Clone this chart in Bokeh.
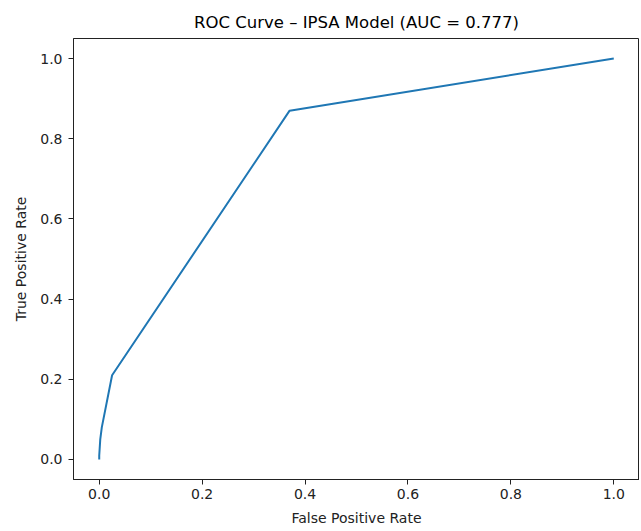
from bokeh.plotting import figure
from bokeh.models import Range1d, FixedTicker, PrintfTickFormatter
from bokeh.embed import file_html
from bokeh.resources import INLINE

# ROC curve points
fpr = [0.0, 0.0, 0.002, 0.005, 0.025, 0.37, 1.0]
tpr = [0.0, 0.01, 0.05, 0.08, 0.21, 0.87, 1.0]
ticks = [0.0, 0.2, 0.4, 0.6, 0.8, 1.0]
title_text = "ROC Curve \u2013 IPSA Model (AUC = 0.777)"

FONT = "DejaVu Sans"

p = figure(width=639, height=529, output_backend="svg", toolbar_location=None,
           x_range=Range1d(-0.05, 1.05), y_range=Range1d(-0.05, 1.05),
           title=title_text, min_border_left=73, min_border_top=38,
           min_border_bottom=50, min_border_right=0)

p.line(fpr, tpr, line_color="#1f77b4", line_width=2)

p.title.align = "center"
p.title.text_font = FONT
p.title.text_font_size = "16.5px"
p.title.text_font_style = "normal"
p.title.text_color = "black"
p.title.offset = 0
p.title.standoff = 14

p.outline_line_color = "#222222"
p.outline_line_width = 1
p.outline_line_alpha = 1
p.xgrid.visible = False
p.ygrid.visible = False
p.background_fill_color = "white"
p.border_fill_color = "white"

for ax, lab in ((p.xaxis[0], "False Positive Rate"), (p.yaxis[0], "True Positive Rate")):
    ax.ticker = FixedTicker(ticks=ticks)
    ax.formatter = PrintfTickFormatter(format="%.1f")
    ax.axis_label = lab
    ax.axis_label_text_font = FONT
    ax.axis_label_text_font_size = "14px"
    ax.axis_label_text_font_style = "normal"
    ax.axis_label_text_color = "#222222"
    ax.major_label_text_font = FONT
    ax.major_label_text_font_size = "14px"
    ax.major_label_text_color = "#222222"
    ax.minor_tick_line_color = None
    ax.major_tick_out = 5
    ax.major_tick_in = 0
    ax.major_tick_line_color = "#222222"
    ax.axis_line_color = "#222222"
    ax.major_label_standoff = 4
    ax.axis_label_standoff = 8

p.yaxis[0].major_label_standoff = 6
p.yaxis[0].axis_label_standoff = 8

open("out.html", "w").write(file_html(p, INLINE))
